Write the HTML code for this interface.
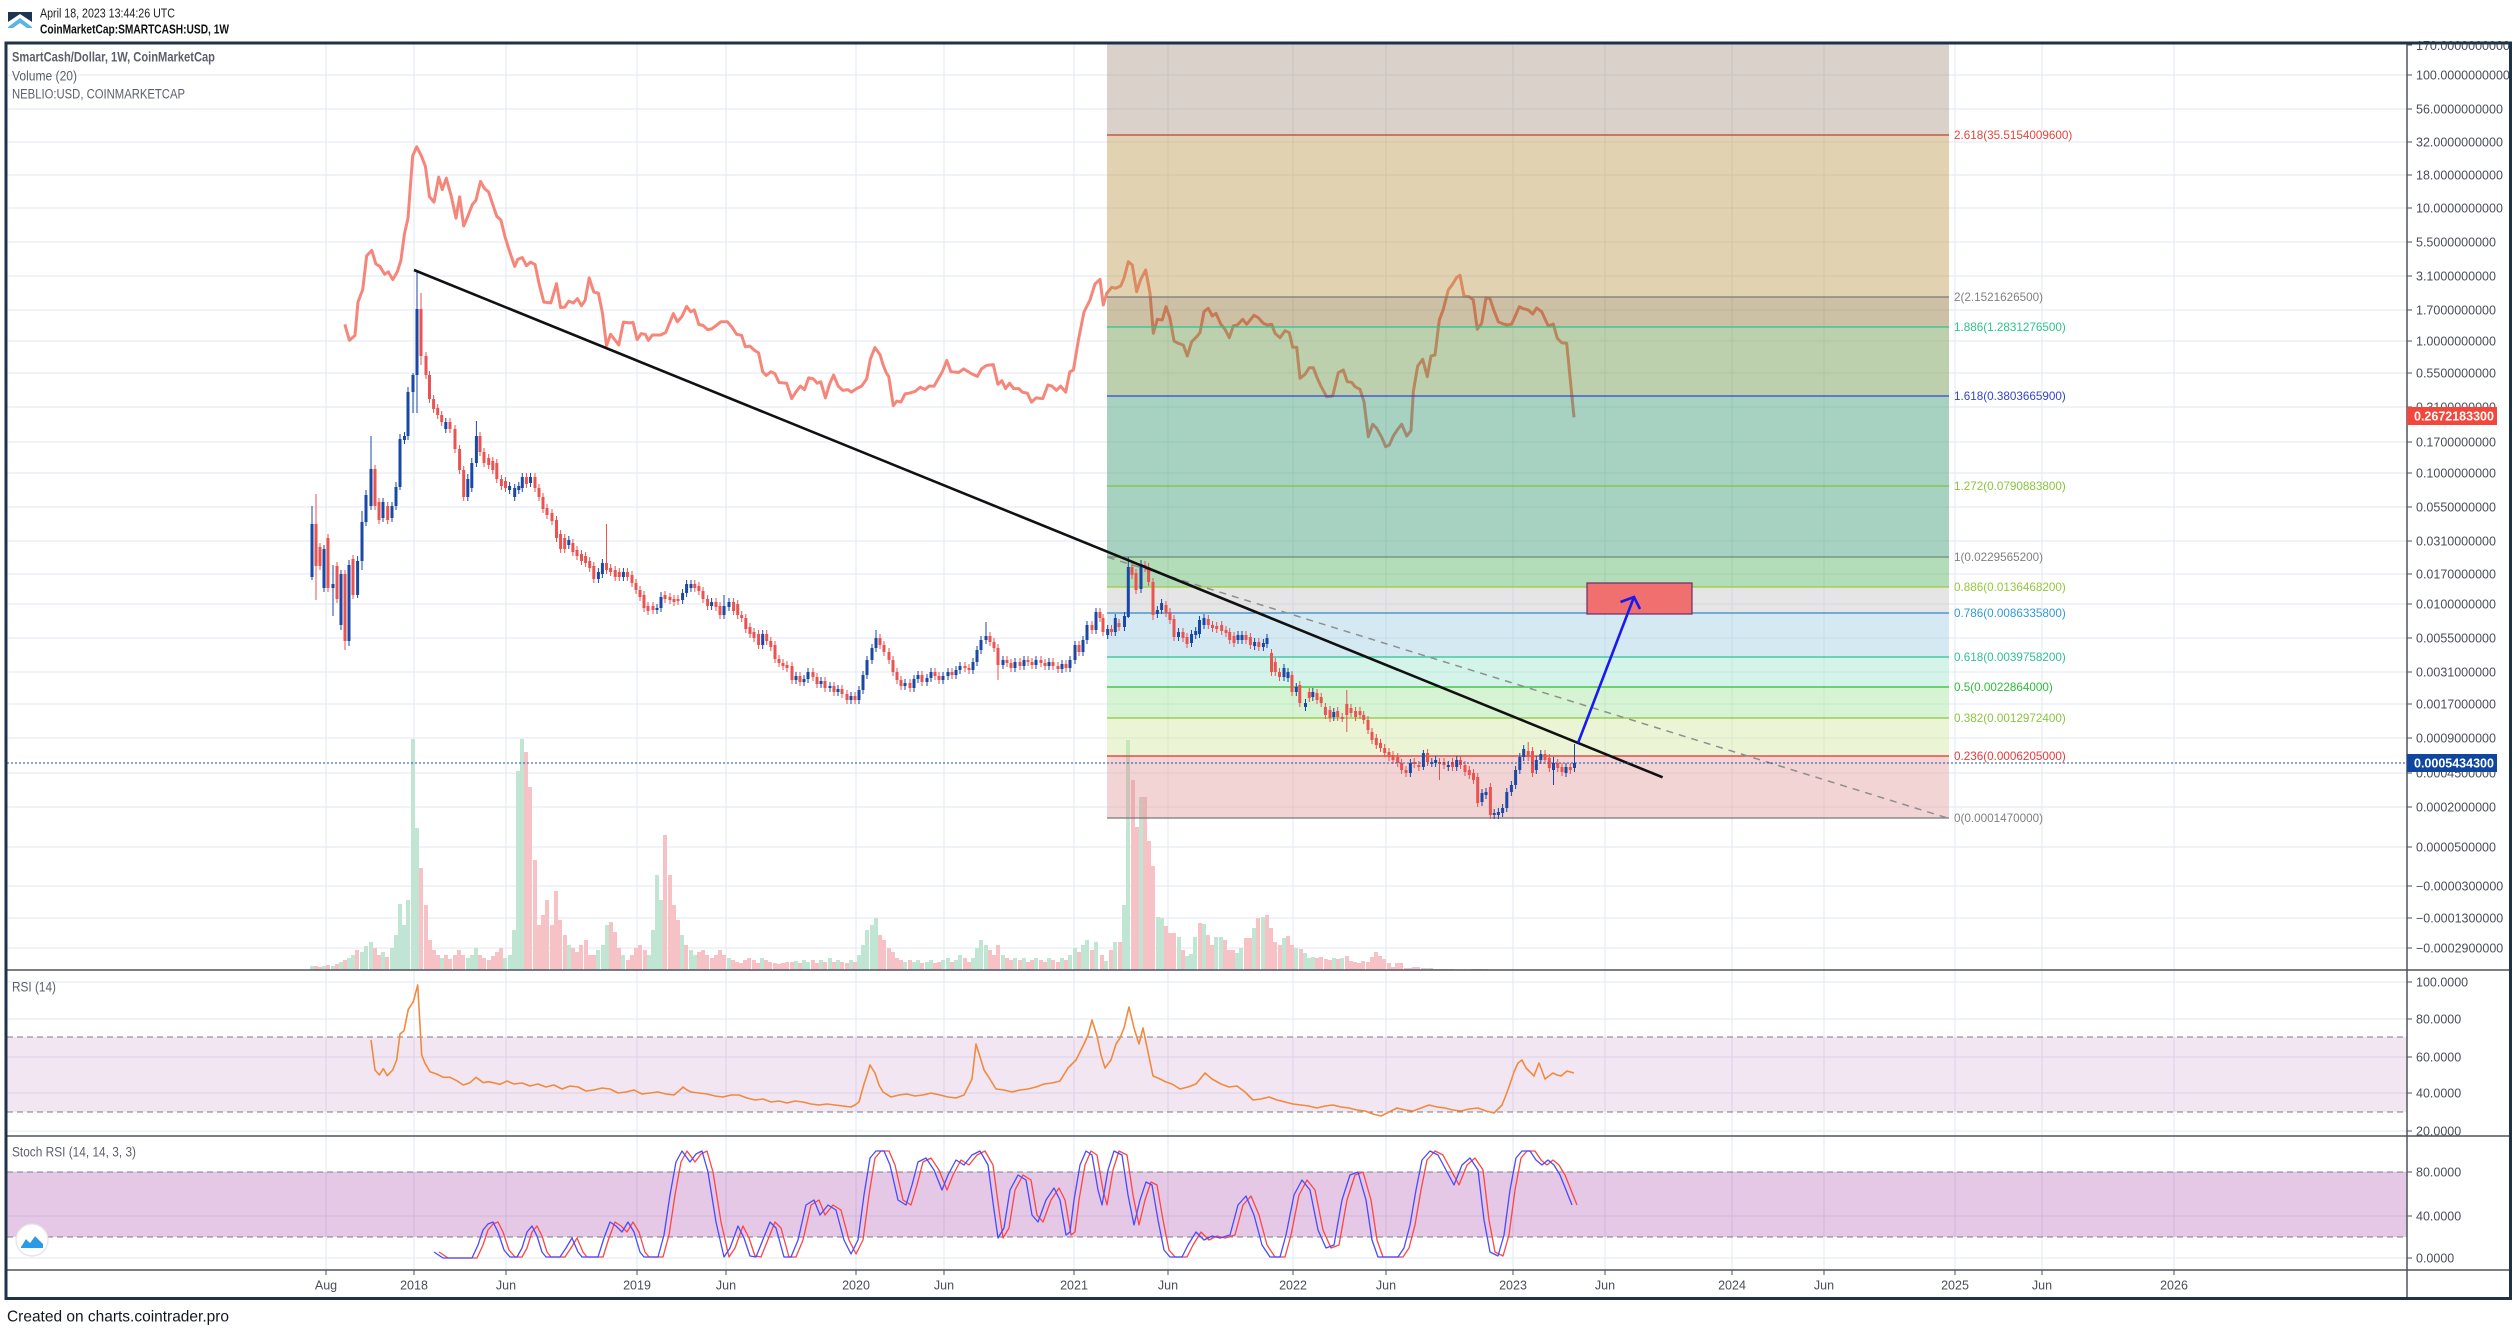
<!DOCTYPE html>
<html><head><meta charset="utf-8"><style>
html,body{margin:0;padding:0;background:#fff;overflow:hidden}
svg{display:block}
text{font-family:"Liberation Sans",Arial,sans-serif}
.ax{font-size:12.5px;fill:#4a4e59}
.fl{font-size:11.7px}
</style></head><body>
<svg width="2518" height="1330" viewBox="0 0 2518 1330" xmlns="http://www.w3.org/2000/svg">
<rect x="0" y="0" width="2518" height="1330" fill="#fff"/>
<!-- gridlines -->
<path fill="none" stroke="#e1eaf2" stroke-width="1" d="M7 75H2407M7 109H2407M7 142H2407M7 175H2407M7 208H2407M7 242H2407M7 276H2407M7 310H2407M7 341H2407M7 373H2407M7 407H2407M7 442H2407M7 473H2407M7 507H2407M7 541H2407M7 574H2407M7 604H2407M7 638H2407M7 672H2407M7 704H2407M7 738H2407M7 773H2407M7 807H2407M7 847H2407M7 886H2407M7 918H2407M7 948H2407
M7 982H2407M7 1019H2407M7 1057H2407M7 1093H2407M7 1131H2407M7 1172H2407M7 1216H2407M7 1258H2407
M326 44V1270M414 44V1270M506 44V1270M637 44V1270M726 44V1270M856 44V1270M944 44V1270M1074 44V1270M1168 44V1270M1293 44V1270M1386 44V1270M1513 44V1270M1605 44V1270M1732 44V1270M1824 44V1270M1955 44V1270M2042 44V1270M2174 44V1270"/>
<!-- RSI / Stoch bands -->
<rect x="7" y="1037" width="2400" height="75" fill="rgba(155,50,160,0.12)"/>
<rect x="7" y="1172" width="2400" height="65" fill="rgba(155,50,160,0.27)"/>
<path fill="none" stroke="#7b7b86" stroke-width="1" stroke-dasharray="6 4" d="M7 1037H2407M7 1112H2407M7 1172H2407M7 1237H2407"/>
<!-- Neblio line -->
<polyline fill="none" stroke="#f7867a" stroke-width="3" stroke-linejoin="round" points="344.8,324.3 349.4,340.4 355,335.4 358,302 362.7,289.6 366.7,255.7 371.8,250.4 375.9,264 380,266.4 384.6,274.3 388.2,271.8 392.8,279.6 397.3,271.8 400.9,260.4 404.5,233.6 408,218.2 412.7,155.7 416.7,146.8 421.3,155.7 425.4,166.4 429.5,196.8 434,202.1 438.7,177.1 442.2,189.6 446.3,178.2 451.4,196.8 456,218.2 459.6,196.8 463.7,226 467.8,216.4 472.3,204.6 475.9,200.4 480.5,181.4 484.6,188.6 488.7,192.1 492.8,204.6 496.8,216.4 500.9,220 505,236.8 509.6,251.4 514.7,266.4 517.8,259.3 522.3,257.5 526.4,265.7 530.5,262.1 535.1,264.6 539.2,284.3 543.8,302.1 550.9,302.9 556.5,283.6 560.6,307.5 564.7,307.1 568.8,301.1 573.4,302.9 577.4,298.6 581.5,305.7 585.1,300.4 589.2,277.9 593.8,292.1 598.4,293.2 602.4,312.9 606.5,345.7 610.6,334.3 618.8,345 623.4,322.1 629.5,322.9 633.1,322.5 637.1,339.6 641.2,333.6 645.3,334.3 648.4,340.4 652.4,335 660.6,335 665.7,332.5 669.3,323.6 673.4,313.6 677.4,321.8 682,316.4 686.6,306.4 690.7,311.8 694.3,310 698.9,324.6 703,325.4 707.6,329.6 711.6,328.9 716.2,325.4 720.8,321.8 727.4,321.8 732,327.1 736.6,334.3 741.7,335.4 745.3,346.8 749.9,346.1 754.5,350.4 758.6,352.9 762.7,371.8 766.2,375.4 770.8,371.8 774.9,373.6 779,382.5 786.6,383.2 791.7,398.6 796.3,391.4 800.4,386.1 804.5,389.6 808.6,377.9 813.2,378.9 817.2,383.2 820.8,381.8 825.4,397.9 829.5,384.3 833.6,375 838.2,386.1 842.8,390.4 847.9,389.6 851.4,392.1 856.5,388.6 861.6,386.1 866.7,378.9 870.3,359.3 874.9,347.5 880,354.6 883,364.6 886.1,372.5 888.7,376.4 893.3,405.7 896.8,401.1 900.9,402.1 905,393.9 909.1,393.2 915.2,391.4 920.3,387.1 924.9,389.6 929,386.1 934.1,386.1 938.2,378.9 942.3,371.8 946.8,360.4 950.9,371.8 958.6,372.5 963.7,368.9 971.3,373.6 977.4,376.4 981.5,368.9 986.6,365.4 993.3,364.6 997.9,384.3 1001.9,380.7 1005.5,388.6 1009.6,383.2 1013.7,388.6 1018.8,388.6 1022.3,392.1 1027.4,393.2 1031.5,402.1 1036.1,397.9 1042.8,398.6 1047.9,385 1051.9,386.1 1056.5,390.4 1060.6,386.1 1065.7,392.1 1069.8,371.8 1073.4,370 1078.5,339.6 1084,312 1090,300 1095,284 1100,279.3 1103.3,305 1106.7,293.3 1111.7,287.3 1115.7,288.3 1120.7,286 1124,278.3 1128.3,261.7 1132.3,265 1136.7,291.7 1140.7,279.3 1145.7,270 1150,293.3 1153.3,333.3 1157.3,319.3 1162.3,320 1166,306.7 1170,318.3 1174,341 1178.3,343.3 1183.3,345 1187.3,356 1191.7,341.7 1196.7,336.7 1200,332.7 1204,311.7 1208.3,308.3 1212.3,316 1216,313.3 1220.7,324 1225,329.3 1229.3,337.7 1233.3,326 1237.3,325 1242.7,319.3 1246.7,324.3 1254,315.3 1258.3,317.7 1263.3,323.3 1267.3,325 1271.7,324.3 1275,333.3 1280,337.7 1285,330.7 1289.3,332.7 1292.7,347.3 1296.7,347.3 1300,378.3 1305,374.3 1309.3,367.7 1313.3,367.7 1317.3,378.3 1321.7,387.7 1326.7,396.7 1332.7,396 1338.3,372.7 1343.3,370 1347.3,381.7 1351.7,382.3 1355,386.7 1360,389.3 1364,401.7 1368.3,436.7 1372.7,424.3 1376.7,428.3 1381.7,437.3 1385.7,446.7 1389.3,445 1393.3,436 1397.7,429.3 1401.7,424.3 1406.7,436 1411,430.7 1413.3,391.7 1417.7,366 1422.7,359.3 1427.3,376.7 1431,356 1435,355 1439.3,320 1443.3,309.3 1448.3,290 1452.7,284 1456.7,277.3 1460,275.3 1464,296 1469.3,296.7 1473.3,300 1477.3,329.3 1481.7,323.3 1486,297.7 1490,298.7 1494,310.7 1498.3,321.7 1503.3,324 1507.3,325 1511.7,324 1515.7,315 1519.3,306.7 1523.3,308.7 1528.3,310 1532.7,314 1536.7,308 1541.7,311.7 1548.3,326 1553.3,324 1557.3,338.3 1561.7,342.7 1566.7,343.3 1574,417.3"/>
<!-- volume -->
<path fill="none" stroke="#c0e5d3" stroke-width="4" d="M312 970V966M324 970V966M333 970V966M341 970V962M349 970V958M353 970V955M362 970V952M366 970V946M371 970V942M383 970V952M392 970V948M396 970V935M400 970V904M404 970V925M408 970V900M413 970V739M417 970V828M442 970V958M468 970V958M472 970V955M476 970V948M505 970V958M510 970V955M514 970V930M518 970V771M522 970V739M569 970V945M598 970V950M603 970V945M607 970V925M623 970V955M649 970V955M653 970V930M657 970V875M661 970V900M682 970V935M691 970V950M695 970V955M729 970V958M762 970V958M796 970V961M804 970V960M808 970V962M821 970V960M830 970V958M838 970V960M851 970V960M859 970V955M863 970V945M867 970V930M872 970V925M876 970V918M905 970V962M914 970V962M918 970V960M927 970V962M931 970V960M943 970V960M948 970V958M956 970V960M960 970V955M973 970V958M977 970V948M981 970V940M986 970V945M1003 970V955M1015 970V958M1024 970V958M1036 970V958M1049 970V958M1062 970V958M1070 970V955M1075 970V948M1083 970V945M1087 970V940M1096 970V942M1106 970V961M1115 970V942M1124 970V905M1128 970V740M1141 970V797M1158 970V917M1162 970V918M1179 970V937M1187 970V956M1191 970V954M1195 970V937M1204 970V924M1216 970V937M1221 970V937M1237 970V953M1241 970V948M1254 970V928M1263 970V917M1284 970V938M1296 970V948M1305 970V953M1309 970V958M1313 970V957M1334 970V958M1342 970V958M1427 970V968"/>
<path fill="none" stroke="#f6c2c6" stroke-width="4" d="M316 970V966M320 970V967M328 970V965M337 970V964M345 970V960M357 970V950M375 970V948M379 970V955M387 970V957M421 970V868M426 970V905M430 970V940M434 970V950M438 970V955M446 970V955M450 970V959M455 970V955M459 970V950M463 970V955M480 970V955M484 970V958M489 970V960M493 970V956M497 970V952M501 970V948M526 970V752M530 970V787M535 970V860M539 970V925M543 970V915M547 970V900M552 970V925M556 970V891M560 970V920M565 970V935M573 970V948M577 970V952M581 970V945M586 970V940M590 970V955M594 970V955M611 970V922M615 970V932M619 970V948M628 970V960M632 970V955M636 970V948M640 970V945M645 970V950M665 970V835M670 970V875M674 970V905M678 970V920M686 970V945M699 970V952M703 970V950M707 970V955M712 970V958M716 970V955M720 970V950M724 970V955M733 970V960M737 970V962M741 970V963M745 970V960M749 970V958M754 970V960M758 970V963M766 970V960M770 970V962M775 970V963M779 970V964M783 970V963M787 970V962M792 970V962M800 970V963M813 970V960M817 970V963M825 970V962M834 970V962M842 970V962M847 970V963M855 970V962M880 970V935M884 970V940M889 970V948M893 970V952M897 970V958M901 970V960M910 970V960M922 970V963M935 970V963M939 970V962M952 970V962M965 970V958M969 970V962M990 970V950M994 970V955M998 970V945M1007 970V958M1011 970V960M1020 970V960M1028 970V962M1032 970V960M1041 970V960M1045 970V962M1053 970V960M1058 970V962M1066 970V960M1079 970V952M1092 970V950M1102 970V955M1111 970V950M1120 970V942M1133 970V780M1137 970V827M1145 970V797M1149 970V841M1153 970V866M1166 970V926M1170 970V933M1174 970V933M1183 970V950M1200 970V923M1208 970V935M1212 970V945M1225 970V940M1229 970V950M1233 970V950M1246 970V938M1250 970V938M1258 970V918M1267 970V915M1271 970V928M1275 970V942M1280 970V945M1288 970V936M1292 970V945M1301 970V949M1317 970V958M1321 970V957M1326 970V959M1330 970V960M1338 970V959M1347 970V956M1351 970V961M1355 970V962M1359 970V963M1363 970V961M1368 970V962M1372 970V957M1376 970V952M1380 970V956M1384 970V959M1389 970V963M1393 970V967M1397 970V963M1401 970V963M1406 970V968M1410 970V968M1414 970V967M1418 970V967M1423 970V968M1431 970V968M1435 970V969M1440 970V969M1444 970V969M1448 970V969M1452 970V969M1473 970V969M1477 970V969M1481 970V969M1486 970V969"/>
<!-- fib zones -->
<g>
<rect x="1107" y="44" width="842" height="91" fill="rgba(160,140,122,0.4)"/>
<rect x="1107" y="135" width="842" height="162" fill="rgba(180,145,60,0.4)"/>
<rect x="1107" y="297" width="842" height="30" fill="rgba(127,100,30,0.4)"/>
<rect x="1107" y="327" width="842" height="69" fill="rgba(90,137,52,0.4)"/>
<rect x="1107" y="396" width="842" height="161" fill="rgba(35,142,100,0.4)"/>
<rect x="1107" y="557" width="842" height="30" fill="rgba(65,167,77,0.4)"/>
<rect x="1107" y="587" width="842" height="26" fill="rgba(190,190,190,0.4)"/>
<rect x="1107" y="613" width="842" height="44" fill="rgba(150,200,225,0.4)"/>
<rect x="1107" y="657" width="842" height="30" fill="rgba(147,228,203,0.4)"/>
<rect x="1107" y="687" width="842" height="31" fill="rgba(152,227,145,0.4)"/>
<rect x="1107" y="718" width="842" height="38" fill="rgba(205,230,152,0.4)"/>
<rect x="1107" y="756" width="842" height="62" fill="rgba(225,148,148,0.4)"/>
</g>
<g stroke-width="1.3" fill="none">
<path d="M1107 135H1949" stroke="#c0412e"/>
<path d="M1107 297H1949" stroke="#7a7a7a"/>
<path d="M1107 327H1949" stroke="#2bc48d"/>
<path d="M1107 396H1949" stroke="#3445c9"/>
<path d="M1107 486H1949" stroke="#7cc53a"/>
<path d="M1107 557H1949" stroke="#6d8a7a"/>
<path d="M1107 587H1949" stroke="#9acc3a"/>
<path d="M1107 613H1949" stroke="#3389c8"/>
<path d="M1107 657H1949" stroke="#2ec196"/>
<path d="M1107 687H1949" stroke="#30bb30"/>
<path d="M1107 718H1949" stroke="#8bc53f"/>
<path d="M1107 756H1949" stroke="#e0302f"/>
<path d="M1107 818H1949" stroke="#787878"/>
</g>
<g class="fl">
<text x="1954" y="139" fill="#e0463c">2.618(35.5154009600)</text>
<text x="1954" y="301" fill="#808080">2(2.1521626500)</text>
<text x="1954" y="331" fill="#2bc48d">1.886(1.2831276500)</text>
<text x="1954" y="400" fill="#3445c9">1.618(0.3803665900)</text>
<text x="1954" y="490" fill="#8bc53f">1.272(0.0790883800)</text>
<text x="1954" y="561" fill="#808080">1(0.0229565200)</text>
<text x="1954" y="591" fill="#94c83a">0.886(0.0136468200)</text>
<text x="1954" y="617" fill="#3298d8">0.786(0.0086335800)</text>
<text x="1954" y="661" fill="#2ec196">0.618(0.0039758200)</text>
<text x="1954" y="691" fill="#2fbb3a">0.5(0.0022864000)</text>
<text x="1954" y="722" fill="#8bc53f">0.382(0.0012972400)</text>
<text x="1954" y="760" fill="#e53b3b">0.236(0.0006205000)</text>
<text x="1954" y="822" fill="#808080">0(0.0001470000)</text>
</g>
<!-- grey dashed -->
<path d="M1107.7 557.3L1949 818.5" stroke="#8f8f8f" stroke-width="1.5" stroke-dasharray="7 6" fill="none"/>
<!-- candles wicks -->
<path fill="none" stroke="#1a48a6" stroke-width="1" d="M312 506V580M324 545V592M333 565V616M341 570V630M349 560V646M357.6 556V598M362 511V570M366 490V526M371 436V510M383 498V522M392 502V522M396 482V510M400 434V490M404.5 432V444M408 387V440M413 373V413M417 270V413M445.8 418V433M467.8 474V501M471.8 458V492M476.4 421V467M509.6 482V494M514.7 484V501M518.8 482V494M522.3 473V492M530.5 473V487M568.8 536V549M598.4 568V583M602.4 559V578M623.4 568V581M657 604V614M661 592V612M682.6 589V604M686.6 580V597M691 580V592M711.6 598V610M724 595V619M729 598V611M762.7 630V649M796 672V684M804 675V686M808 668V683M821 677V688M830 682V692M838 685V696M851 692V704M859 686V704M863 671V694M867 656V679M872 644V664M876 630V652M905 679V690M914 675V692M918 671V683M927 674V686M931 668V682M943 672V684M948 668V680M956 666V679M960 662V674M973 658V674M977 646V666M981 636V654M986 622V644M1003 656V669M1015 658V672M1024 656V670M1036 656V669M1049 658V670M1062 660V673M1070 656V672M1075 641V664M1083 636V656M1087 621V644M1096 608V634M1107.7 625V639M1115.3 614V636M1124.5 612V631M1128.3 557V618M1141 560V593M1157.4 606V618M1161.6 599V614M1178.5 628V641M1191.5 630V647M1195.7 627V639M1199.5 616V638M1204 614V629M1238 631V644M1242 631V644M1254.6 638V650M1263.4 639V651M1267 634V648M1284 664V681M1288 668V682M1296.3 683V696M1305.5 699V711M1312.8 688V701M1333.8 708V721M1410.4 759V777M1423.4 750V770M1431.8 758V767M1435.6 756V767M1448.3 761V771M1456.7 756V771M1482 789V806M1486 788V799M1494.2 809V819M1498.4 808V819M1502.6 804V817M1506.8 788V812M1511.4 781V796M1515.6 766V789M1519.8 753V774M1523.7 745V761M1536.3 756V774M1540.8 750V764M1553.5 757V785M1566 763V777M1574.5 744V772"/>
<path fill="none" stroke="#ea5350" stroke-width="1" d="M316 494V600M320 543V570M328 534V592M337 562V603M345 570V650M353 555V599M375 465V510M379 498V524M387.7 502V524M421 293V365M426 352V379M429.5 371V403M433.6 395V413M437.7 404V419M441.7 411V426M450 418V433M455 425V453M459.6 445V474M463.7 466V501M480 432V456M484 448V467M488.7 454V469M492.8 457V474M496.8 459V483M501.4 475V490M505.5 477V492M526.4 473V488M535 473V492M539 484V501M543 493V513M547 504V519M552 509V525M556.5 516V542M560.6 530V553M564.7 534V553M572.9 539V556M577 546V560M581.5 550V565M585.6 552V567M589.7 557V572M593.8 562V583M606.5 524V574M610.6 564V576M615.2 566V581M619.3 568V581M627.4 568V581M632 571V587M636 579V594M640 586V601M644 591V612M648 602V615M653 602V614M665 591V603M670 593V604M674 595V606M678 595V605M694.8 580V592M698.9 582V595M703 587V603M707.6 595V610M716 598V611M720 602V619M733.6 598V615M737.7 600V619M741.7 611V622M745.8 614V633M750 623V638M754 628V642M758.6 630V649M766.7 630V645M770.8 637V651M775 641V663M779 655V667M783 659V670M787 661V672M792 662V684M800 672V686M813 668V681M817 673V688M825 677V692M834 682V696M842 685V698M847 690V704M855 692V704M880 634V649M884 641V656M889 648V664M893 656V676M897 668V684M901 676V690M910 679V692M922 671V686M935 668V680M939 672V684M952 668V679M965 662V672M969 664V674M990 632V646M994 638V652M998 644V680M1007 656V667M1011 659V672M1020 658V670M1028 656V666M1032 658V669M1041 656V667M1045 659V670M1053 658V670M1058 662V673M1066 660V672M1079 641V656M1092 621V634M1100 608V622M1103 614V636M1111.5 625V636M1119 619V631M1132 563V579M1136 569V594M1145 561V572M1148.6 563V586M1153 578V620M1166 601V617M1170 608V624M1174 615V641M1183 628V642M1187 633V648M1208.3 615V629M1212.5 621V632M1216.7 622V633M1221.7 621V635M1226 626V637M1229.7 628V644M1234 632V647M1246 631V644M1250.4 633V649M1258.8 638V651M1271.5 649V676M1275.3 658V676M1279.5 668V681M1292 671V696M1299.8 681V707M1309.3 688V702M1317 689V704M1321.2 693V707M1325.4 703V719M1330 706V722M1337.7 707V721M1342.2 713V722M1346.8 690V732M1351 704V717M1355.6 707V721M1360 707V719M1363.7 711V724M1368 716V734M1372 728V744M1376.3 734V749M1380.5 739V752M1384.7 744V757M1389 748V761M1393 751V764M1397.7 753V767M1401.6 759V774M1406 766V777M1414.2 758V768M1418.8 761V771M1427.6 749V766M1439.5 758V780M1444 758V769M1452.5 758V771M1460.5 756V769M1465 761V776M1469.3 766V779M1473.5 769V784M1477.7 773V807M1490.4 783V819M1528.2 742V761M1532.5 747V777M1545 750V764M1549.3 754V772M1557.7 759V772M1562 763V776M1570.3 763V774"/>
<!-- candle bodies -->
<path fill="none" stroke="#1a48a6" stroke-width="3" d="M312 524V577M324 549V588M333 584V588M341 574V625M349 565V641M357.6 561V595M362 522V561M366 495V522M371 469V506M383 502V518M392 506V518M396 487V506M400 439V487M404.5 436V440M408 392V436M413 375V392M417 309V375M445.8 422V429M467.8 479V497M471.8 463V488M476.4 436V463M509.6 486V490M514.7 488V497M518.8 486V490M522.3 477V488M530.5 477V483M568.8 540V545M598.4 572V579M602.4 563V574M623.4 572V577M657 608V610M661 597V608M682.6 593V600M686.6 584V593M691 584V588M711.6 602V606M724 606V615M729 602V607M762.7 634V645M796 676V680M804 679V682M808 672V679M821 681V684M830 686V688M838 689V692M851 696V700M859 690V700M863 675V690M867 660V675M872 648V660M876 638V648M905 683V686M914 679V688M918 675V679M927 678V682M931 672V678M943 676V680M948 672V676M956 670V675M960 666V670M973 662V670M977 650V662M981 640V650M986 636V640M1003 660V665M1015 662V668M1024 660V666M1036 660V665M1049 662V666M1062 664V669M1070 660V668M1075 645V660M1083 640V652M1087 625V640M1096 612V630M1107.7 629V635M1115.3 618V632M1124.5 616V627M1128.3 567V617M1141 564V589M1157.4 610V614M1161.6 603V610M1178.5 632V637M1191.5 634V643M1195.7 631V635M1199.5 620V634M1204 618V625M1238 635V640M1242 635V640M1254.6 642V646M1263.4 643V647M1267 638V644M1284 668V677M1288 672V678M1296.3 687V692M1305.5 703V707M1312.8 692V697M1333.8 712V717M1410.4 763V773M1423.4 753V767M1431.8 762V764M1435.6 760V763M1448.3 765V767M1456.7 760V767M1482 793V802M1486 792V795M1494.2 813V815M1498.4 812V815M1502.6 808V813M1506.8 792V808M1511.4 785V792M1515.6 770V785M1519.8 757V770M1523.7 749V757M1536.3 760V770M1540.8 754V760M1553.5 763V770M1566 767V773M1574.5 763V768"/>
<path fill="none" stroke="#ea5350" stroke-width="3" d="M316 524V566M320 547V566M328 538V588M337 566V599M345 574V641M353 559V595M375 469V506M379 502V520M387.7 506V520M421 309V356M426 356V375M429.5 375V399M433.6 399V409M437.7 408V415M441.7 415V422M450 422V429M455 429V449M459.6 449V470M463.7 470V497M480 436V452M484 452V463M488.7 458V465M492.8 461V470M496.8 463V479M501.4 479V486M505.5 481V488M526.4 477V484M535 477V488M539 488V497M543 497V509M547 508V515M552 513V521M556.5 520V538M560.6 534V549M564.7 538V549M572.9 543V552M577 550V556M581.5 554V561M585.6 556V563M589.7 561V568M593.8 566V579M606.5 563V570M610.6 568V572M615.2 570V577M619.3 572V577M627.4 572V577M632 575V583M636 583V590M640 590V597M644 595V608M648 606V611M653 606V610M665 595V599M670 597V600M674 599V602M678 599V601M694.8 584V588M698.9 586V591M703 591V599M707.6 599V606M716 602V607M720 606V615M733.6 602V611M737.7 604V615M741.7 615V618M745.8 618V629M750 627V634M754 632V638M758.6 634V645M766.7 634V641M770.8 641V647M775 645V659M779 659V663M783 663V666M787 665V668M792 666V680M800 676V682M813 672V677M817 677V684M825 681V688M834 686V692M842 689V694M847 694V700M855 696V700M880 638V645M884 645V652M889 652V660M893 660V672M897 672V680M901 680V686M910 683V688M922 675V682M935 672V676M939 676V680M952 672V675M965 666V668M969 668V670M990 636V642M994 642V648M998 648V665M1007 660V663M1011 663V668M1020 662V666M1028 660V662M1032 662V665M1041 660V663M1045 663V666M1053 662V666M1058 666V669M1066 664V668M1079 645V652M1092 625V630M1100 612V618M1103 618V632M1111.5 629V632M1119 623V627M1132 567V575M1136 573V590M1145 565V568M1148.6 567V582M1153 582V615M1166 605V613M1170 612V620M1174 619V637M1183 632V638M1187 637V644M1208.3 619V625M1212.5 625V628M1216.7 626V629M1221.7 625V631M1226 630V633M1229.7 632V640M1234 636V643M1246 635V640M1250.4 637V645M1258.8 642V647M1271.5 653V672M1275.3 662V672M1279.5 672V677M1292 675V692M1299.8 685V703M1309.3 692V698M1317 693V700M1321.2 697V703M1325.4 707V715M1330 710V718M1337.7 711V717M1342.2 717V719M1346.8 704V715M1351 708V713M1355.6 711V717M1360 711V715M1363.7 715V720M1368 720V730M1372 732V740M1376.3 738V745M1380.5 743V748M1384.7 748V753M1389 752V757M1393 755V760M1397.7 757V763M1401.6 763V770M1406 770V773M1414.2 762V764M1418.8 765V767M1427.6 753V762M1439.5 762V764M1444 762V765M1452.5 762V767M1460.5 760V765M1465 765V772M1469.3 770V775M1473.5 773V780M1477.7 777V803M1490.4 787V815M1528.2 751V757M1532.5 751V773M1545 754V760M1549.3 758V768M1557.7 763V768M1562 767V772M1570.3 767V770"/>
<!-- trendline, target box, arrow -->
<path d="M414 270L1662.6 777.3" stroke="#111" stroke-width="2.6" fill="none"/>
<rect x="1587" y="583" width="105" height="31" fill="#f07070" stroke="#6b2c6b" stroke-width="1.2"/>
<path d="M1578 743L1634 597" stroke="#1a1af0" stroke-width="2.6" fill="none"/>
<polyline points="1620.5,602 1634,597 1640,609" stroke="#1a1af0" stroke-width="2.6" fill="none"/>
<!-- price line -->
<path d="M7 763H2407" stroke="#1f4a9f" stroke-width="1" stroke-dasharray="2 2" fill="none"/>
<!-- RSI -->
<polyline fill="none" stroke="#f28a3e" stroke-width="1.6" stroke-linejoin="round" points="371,1040 375,1070 379.3,1075 383.3,1068.7 387.3,1075.7 392.7,1070 396.7,1060 400,1034 404,1030.7 408.3,1009.3 413.3,1001.7 417.7,985 421.7,1055 425,1063.3 430,1071.7 436.7,1074 443.3,1077.3 450,1077.3 456.7,1080.7 463.3,1085 470,1082.7 476,1077.3 483.3,1082.7 488.3,1081.7 493.3,1082.7 500,1084.3 507,1081 514,1084 522,1083 530,1086 538,1084 546,1087 554,1085 562,1089 570,1086 578,1087 586,1091 594,1090 602,1088 610,1089 618,1093 626,1092 634,1090 642,1094 650,1093 658,1092 666,1094 674,1095 680,1090 683,1087 687,1090 691,1092 699,1093 707,1094 715,1096 723,1097 731,1095 739,1095 747,1098 755,1100 763,1099 771,1102 779,1101 787,1103 795,1101 803,1102 811,1104 819,1105 827,1104 835,1105 843,1106 851,1107 855,1105 859,1102 864,1084 867,1075 870,1065 875,1073 879,1085 883,1092 891,1097 899,1095 907,1094 915,1096 923,1095 931,1093 940,1095 948,1097 956,1098 964,1095 972,1079 976,1044 981,1060 984,1070 988,1076 996,1089 1004,1090 1012,1092 1020,1090 1028,1089 1036,1087 1044,1084 1052,1083 1060,1081 1068,1068 1076,1060 1084,1044 1088,1035 1092,1020 1097,1036 1101,1055 1105,1068 1111,1060 1116,1044 1120,1038 1124,1028 1129,1007 1134,1028 1139,1044 1143,1028 1148,1052 1153,1076 1160,1079 1166,1082 1172,1084 1180,1089 1188,1087 1196,1084 1205,1073 1212,1079 1221,1084 1229,1087 1237,1086 1245,1092 1253,1100 1261,1099 1269,1097 1277,1100 1285,1102 1293,1104 1301,1105 1309,1106 1317,1108 1325,1106 1333,1105 1341,1107 1349,1108 1357,1110 1365,1111 1373,1114 1381,1116 1389,1112 1397,1108 1405,1110 1413,1111 1421,1108 1429,1105 1437,1107 1445,1108 1453,1110 1461,1111 1469,1109 1478,1108 1486,1111 1494,1113 1502,1105 1506,1095 1510,1084 1514,1072 1518,1063 1522,1060 1526,1068 1530,1072 1534,1076 1539,1063 1545,1079 1549,1076 1553,1073 1557,1075 1561,1076 1567,1071 1574,1073"/>
<!-- Stoch RSI -->
<g fill="none" stroke-width="1.3" stroke-linejoin="round">
<polyline id="k" stroke="#ff4545" transform="translate(5,0)" points="434,1252 443,1258 472,1258 478,1245 483,1230 488,1224 493,1222 498,1232 504,1250 510,1257 517,1257 522,1248 527,1232 532,1226 537,1236 542,1252 546,1257 560,1257 566,1248 572,1238 578,1252 582,1257 598,1257 604,1238 610,1222 616,1226 622,1232 628,1222 634,1232 640,1252 644,1257 658,1257 664,1235 670,1195 676,1162 682,1151 690,1162 696,1154 702,1151 708,1172 716,1222 724,1257 730,1248 738,1226 744,1238 750,1256 756,1257 762,1242 770,1222 776,1228 784,1257 791,1257 798,1240 806,1205 814,1200 820,1215 828,1205 836,1210 844,1240 851,1254 858,1240 864,1195 870,1158 876,1151 884,1151 890,1165 898,1200 906,1205 912,1185 918,1162 926,1158 934,1170 942,1190 948,1175 956,1160 964,1165 972,1155 980,1151 988,1165 994,1210 998,1238 1004,1228 1010,1190 1018,1175 1026,1180 1032,1215 1038,1222 1046,1200 1054,1188 1060,1200 1066,1235 1070,1232 1074,1200 1080,1165 1086,1151 1092,1155 1098,1190 1102,1205 1108,1170 1114,1151 1122,1155 1128,1195 1134,1225 1140,1200 1146,1182 1152,1185 1158,1220 1164,1250 1170,1257 1182,1257 1188,1245 1196,1232 1204,1240 1212,1236 1220,1238 1230,1235 1238,1205 1246,1196 1254,1215 1262,1245 1270,1257 1280,1257 1286,1235 1294,1195 1302,1180 1310,1190 1318,1230 1326,1248 1334,1245 1342,1200 1350,1175 1358,1172 1366,1200 1372,1240 1378,1257 1398,1257 1404,1248 1410,1225 1416,1190 1422,1160 1430,1151 1438,1155 1446,1170 1454,1185 1462,1165 1470,1158 1478,1170 1484,1220 1490,1252 1498,1256 1504,1235 1510,1190 1516,1158 1522,1151 1530,1151 1536,1160 1542,1165 1548,1160 1554,1165 1560,1175 1566,1190 1572,1205"/>
<polyline stroke="#4a4aff" points="434,1252 443,1258 472,1258 478,1245 483,1230 488,1224 493,1222 498,1232 504,1250 510,1257 517,1257 522,1248 527,1232 532,1226 537,1236 542,1252 546,1257 560,1257 566,1248 572,1238 578,1252 582,1257 598,1257 604,1238 610,1222 616,1226 622,1232 628,1222 634,1232 640,1252 644,1257 658,1257 664,1235 670,1195 676,1162 682,1151 690,1162 696,1154 702,1151 708,1172 716,1222 724,1257 730,1248 738,1226 744,1238 750,1256 756,1257 762,1242 770,1222 776,1228 784,1257 791,1257 798,1240 806,1205 814,1200 820,1215 828,1205 836,1210 844,1240 851,1254 858,1240 864,1195 870,1158 876,1151 884,1151 890,1165 898,1200 906,1205 912,1185 918,1162 926,1158 934,1170 942,1190 948,1175 956,1160 964,1165 972,1155 980,1151 988,1165 994,1210 998,1238 1004,1228 1010,1190 1018,1175 1026,1180 1032,1215 1038,1222 1046,1200 1054,1188 1060,1200 1066,1235 1070,1232 1074,1200 1080,1165 1086,1151 1092,1155 1098,1190 1102,1205 1108,1170 1114,1151 1122,1155 1128,1195 1134,1225 1140,1200 1146,1182 1152,1185 1158,1220 1164,1250 1170,1257 1182,1257 1188,1245 1196,1232 1204,1240 1212,1236 1220,1238 1230,1235 1238,1205 1246,1196 1254,1215 1262,1245 1270,1257 1280,1257 1286,1235 1294,1195 1302,1180 1310,1190 1318,1230 1326,1248 1334,1245 1342,1200 1350,1175 1358,1172 1366,1200 1372,1240 1378,1257 1398,1257 1404,1248 1410,1225 1416,1190 1422,1160 1430,1151 1438,1155 1446,1170 1454,1185 1462,1165 1470,1158 1478,1170 1484,1220 1490,1252 1498,1256 1504,1235 1510,1190 1516,1158 1522,1151 1530,1151 1536,1160 1542,1165 1548,1160 1554,1165 1560,1175 1566,1190 1572,1205"/>
</g>
<!-- separators & axis -->
<path fill="none" stroke="#50535e" stroke-width="1.5" d="M7 970H2509M7 1136H2509M7 1270H2509M2407 44V1297"/>
<path fill="none" stroke="#50535e" stroke-width="1" d="M2407 45H2412M2407 75H2412M2407 109H2412M2407 142H2412M2407 175H2412M2407 208H2412M2407 242H2412M2407 276H2412M2407 310H2412M2407 341H2412M2407 373H2412M2407 407H2412M2407 442H2412M2407 473H2412M2407 507H2412M2407 541H2412M2407 574H2412M2407 604H2412M2407 638H2412M2407 672H2412M2407 704H2412M2407 738H2412M2407 773H2412M2407 807H2412M2407 847H2412M2407 886H2412M2407 918H2412M2407 948H2412M2407 982H2412M2407 1019H2412M2407 1057H2412M2407 1093H2412M2407 1131H2412M2407 1172H2412M2407 1216H2412M2407 1258H2412
M326 1270V1275M414 1270V1275M506 1270V1275M637 1270V1275M726 1270V1275M856 1270V1275M944 1270V1275M1074 1270V1275M1168 1270V1275M1293 1270V1275M1386 1270V1275M1513 1270V1275M1605 1270V1275M1732 1270V1275M1824 1270V1275M1955 1270V1275M2042 1270V1275M2174 1270V1275"/>
<g class="ax">
<text x="2416" y="50">170.0000000000</text>
<text x="2416" y="79.4">100.0000000000</text>
<text x="2416" y="113.4">56.0000000000</text>
<text x="2416" y="146.4">32.0000000000</text>
<text x="2416" y="179.4">18.0000000000</text>
<text x="2416" y="212.4">10.0000000000</text>
<text x="2416" y="246.4">5.5000000000</text>
<text x="2416" y="280.4">3.1000000000</text>
<text x="2416" y="314.4">1.7000000000</text>
<text x="2416" y="345.4">1.0000000000</text>
<text x="2416" y="377.4">0.5500000000</text>
<text x="2416" y="411.4">0.3100000000</text>
<text x="2416" y="446.4">0.1700000000</text>
<text x="2416" y="477.4">0.1000000000</text>
<text x="2416" y="511.4">0.0550000000</text>
<text x="2416" y="545.4">0.0310000000</text>
<text x="2416" y="578.4">0.0170000000</text>
<text x="2416" y="608.4">0.0100000000</text>
<text x="2416" y="642.4">0.0055000000</text>
<text x="2416" y="676.4">0.0031000000</text>
<text x="2416" y="708.4">0.0017000000</text>
<text x="2416" y="742.4">0.0009000000</text>
<text x="2416" y="777.4">0.0004500000</text>
<text x="2416" y="811.4">0.0002000000</text>
<text x="2416" y="851.4">0.0000500000</text>
<text x="2416" y="890.4">−0.0000300000</text>
<text x="2416" y="922.4">−0.0001300000</text>
<text x="2416" y="952.4">−0.0002900000</text>
<text x="2416" y="986.4">100.0000</text>
<text x="2416" y="1023.4">80.0000</text>
<text x="2416" y="1061.4">60.0000</text>
<text x="2416" y="1097.4">40.0000</text>
<text x="2416" y="1135.4">20.0000</text>
<text x="2416" y="1176.4">80.0000</text>
<text x="2416" y="1220.4">40.0000</text>
<text x="2416" y="1262.4">0.0000</text>
</g>
<g class="ax" text-anchor="middle">
<text x="326" y="1289.5">Aug</text><text x="414" y="1289.5">2018</text><text x="506" y="1289.5">Jun</text>
<text x="637" y="1289.5">2019</text><text x="726" y="1289.5">Jun</text><text x="856" y="1289.5">2020</text>
<text x="944" y="1289.5">Jun</text><text x="1074" y="1289.5">2021</text><text x="1168" y="1289.5">Jun</text>
<text x="1293" y="1289.5">2022</text><text x="1386" y="1289.5">Jun</text><text x="1513" y="1289.5">2023</text>
<text x="1605" y="1289.5">Jun</text><text x="1732" y="1289.5">2024</text><text x="1824" y="1289.5">Jun</text>
<text x="1955" y="1289.5">2025</text><text x="2042" y="1289.5">Jun</text><text x="2174" y="1289.5">2026</text>
</g>
<!-- price labels -->
<rect x="2407" y="407" width="90" height="18" fill="#f2473a"/>
<text x="2414" y="420.5" font-size="12.5" font-weight="bold" fill="#fff">0.2672183300</text>
<rect x="2407" y="754" width="90" height="18" fill="#0f47a0"/>
<text x="2414" y="767.5" font-size="12.5" font-weight="bold" fill="#fff">0.0005434300</text>
<!-- frame -->
<rect x="6" y="43" width="2504.5" height="1255.5" fill="none" stroke="#1e3349" stroke-width="3"/>
<!-- legends -->
<text x="12" y="61.5" font-size="13.5" font-weight="bold" fill="#5d606b" textLength="203" lengthAdjust="spacingAndGlyphs">SmartCash/Dollar, 1W, CoinMarketCap</text>
<text x="12" y="80.5" font-size="13.5" fill="#5d606b" textLength="65" lengthAdjust="spacingAndGlyphs">Volume (20)</text>
<text x="12" y="98.5" font-size="13.5" fill="#5d606b" textLength="173" lengthAdjust="spacingAndGlyphs">NEBLIO:USD, COINMARKETCAP</text>
<text x="12" y="991.5" font-size="13.5" fill="#5d606b" textLength="44" lengthAdjust="spacingAndGlyphs">RSI (14)</text>
<text x="12" y="1156.5" font-size="13.5" fill="#5d606b" textLength="124" lengthAdjust="spacingAndGlyphs">Stoch RSI (14, 14, 3, 3)</text>
<!-- header -->
<polygon points="8,12 32,12 32,22 20,14 8,22" fill="#1c3550"/>
<polygon points="8,27 20,18 32,27 32,28 27,28 20,23 13,28 8,28" fill="#5ab4e5"/>
<text x="40" y="17.3" font-size="12.5" fill="#222" textLength="135" lengthAdjust="spacingAndGlyphs">April 18, 2023 13:44:26 UTC</text>
<text x="40" y="33.5" font-size="12.5" font-weight="bold" fill="#111" textLength="189" lengthAdjust="spacingAndGlyphs">CoinMarketCap:SMARTCASH:USD, 1W</text>
<!-- bottom logo -->
<circle cx="32" cy="1240" r="16" fill="#fff" stroke="#e3e3e3" stroke-width="1.2"/>
<path d="M21 1247L26 1239L30 1243L35 1236L43 1244L43 1248L21 1248Z" fill="#2a9be6"/>
<path d="M21 1244L26 1238L30 1242L35 1235L43 1243" fill="none" stroke="#fff" stroke-width="1.3"/>
<!-- footer -->
<text x="7" y="1321.5" font-size="16" fill="#131722" textLength="222" lengthAdjust="spacingAndGlyphs">Created on charts.cointrader.pro</text>
</svg>
</body></html>
